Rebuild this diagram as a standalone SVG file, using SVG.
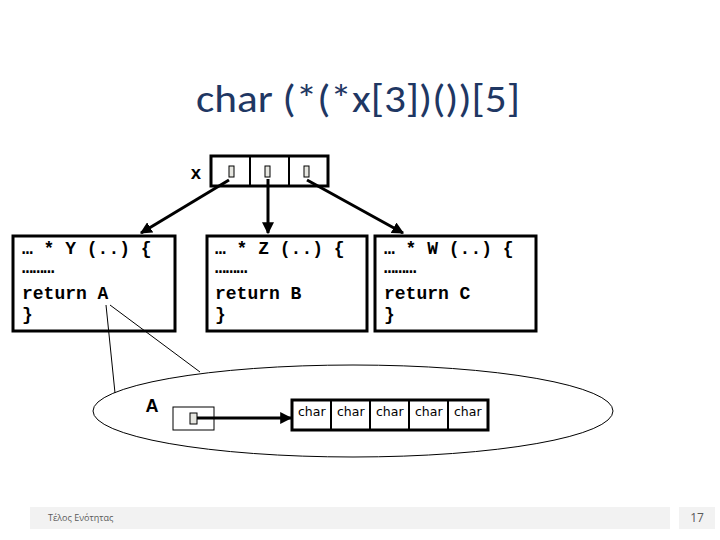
<svg xmlns="http://www.w3.org/2000/svg" width="720" height="540" viewBox="0 0 720 540">
<defs>
<marker id="ah" viewBox="0 0 10 10" refX="9" refY="5" markerWidth="4" markerHeight="4" orient="auto" markerUnits="strokeWidth"><path d="M0,0 L10,5 L0,10 z" fill="#000"/></marker>
<style>
.code{font-family:"Liberation Mono","DejaVu Sans Mono",monospace;font-weight:bold;font-size:18px;fill:#000}
.box{fill:#fff;stroke:#000;stroke-width:3}
.cell{fill:none;stroke:#000;stroke-width:2}
.tofu{fill:#e6e6e0;stroke:#000;stroke-width:1}
.arr{stroke:#000;stroke-width:3;fill:none;marker-end:url(#ah)}
.ch{font-family:"DejaVu Sans","Liberation Sans",sans-serif;font-size:12.5px;fill:#000}
</style>
</defs>
<rect width="720" height="540" fill="#fff"/>
<text x="358" y="112" text-anchor="middle" font-family="Carlito,'Liberation Sans',sans-serif" font-size="38" fill="#1f3763" textLength="324" lengthAdjust="spacingAndGlyphs">char (*(*x[3])())[5]</text>

<g id="xarray">
<text x="196" y="179" text-anchor="middle" class="code" font-size="15">x</text>
<rect x="211" y="156" width="117" height="30" class="box"/>
<line x1="250" y1="156" x2="250" y2="186" class="cell"/>
<line x1="289" y1="156" x2="289" y2="186" class="cell"/>
<rect x="229" y="166" width="5" height="11" class="tofu"/>
<rect x="265" y="166" width="5" height="11" class="tofu"/>
<rect x="304" y="166" width="5" height="11" class="tofu"/>
</g>

<g id="funcY">
<rect x="13" y="236" width="162" height="95" class="box"/>
<text x="22" y="254" class="code">… * Y (..) {</text>
<text x="22" y="273" class="code">………</text>
<text x="22" y="299" class="code">return A</text>
<text x="22" y="320" class="code">}</text>
</g>
<g id="funcZ">
<rect x="207" y="236" width="160" height="95" class="box"/>
<text x="215" y="254" class="code">… * Z (..) {</text>
<text x="215" y="273" class="code">………</text>
<text x="215" y="299" class="code">return B</text>
<text x="215" y="320" class="code">}</text>
</g>
<g id="funcW">
<rect x="375" y="236" width="161" height="95" class="box"/>
<text x="384" y="254" class="code">… * W (..) {</text>
<text x="384" y="273" class="code">………</text>
<text x="384" y="299" class="code">return C</text>
<text x="384" y="320" class="code">}</text>
</g>

<g id="scope">
<ellipse cx="353" cy="411" rx="260" ry="46" fill="none" stroke="#000" stroke-width="1"/>
<text x="152" y="412" text-anchor="middle" font-family="'Liberation Sans',sans-serif" font-weight="bold" font-size="18">A</text>
</g>
<g id="ptrA">
<rect x="173" y="407" width="41" height="23" fill="#fff" stroke="#000" stroke-width="1"/>
<rect x="190" y="413" width="7" height="11" class="tofu"/>
</g>
<g id="chars">
<rect x="292" y="400" width="196" height="30" class="box"/>
<line x1="331" y1="400" x2="331" y2="430" class="cell"/>
<line x1="370" y1="400" x2="370" y2="430" class="cell"/>
<line x1="409" y1="400" x2="409" y2="430" class="cell"/>
<line x1="448" y1="400" x2="448" y2="430" class="cell"/>
<text x="298" y="416" class="ch">char</text>
<text x="337" y="416" class="ch">char</text>
<text x="376" y="416" class="ch">char</text>
<text x="415" y="416" class="ch">char</text>
<text x="454" y="416" class="ch">char</text>
</g>

<g id="connectors">
<line x1="229" y1="180" x2="141" y2="233" class="arr"/>
<line x1="268" y1="179" x2="268" y2="233" class="arr"/>
<line x1="307" y1="180" x2="403" y2="233" class="arr"/>
<line x1="197" y1="418" x2="291" y2="418" class="arr"/>
<line x1="106" y1="305" x2="115" y2="393" stroke="#000" stroke-width="1"/>
<line x1="110" y1="305" x2="200" y2="372" stroke="#000" stroke-width="1"/>
</g>

<g id="footer">
<rect x="30" y="507" width="640" height="22" fill="#f2f2f2"/>
<text x="48" y="521" font-family="'Open Sans','Liberation Sans',sans-serif" font-size="9" fill="#595959">Τέλος Ενότητας</text>
<rect x="679" y="507" width="36" height="22" fill="#f2f2f2"/>
<text x="697" y="522" text-anchor="middle" font-family="'Open Sans','Liberation Sans',sans-serif" font-size="12" fill="#595959">17</text>
</g>
</svg>
